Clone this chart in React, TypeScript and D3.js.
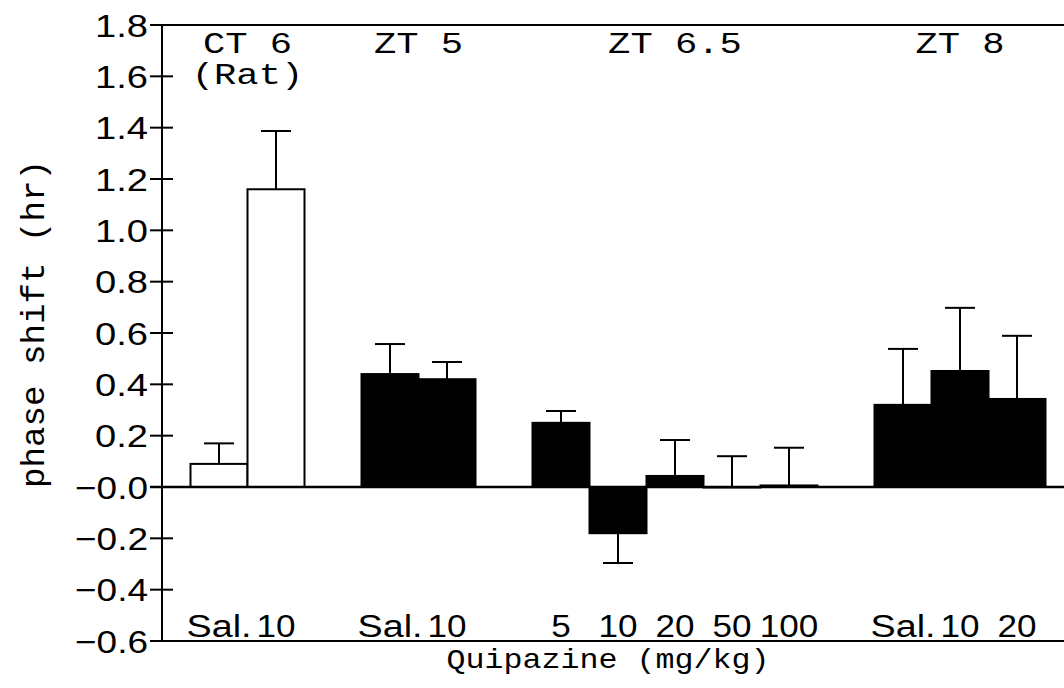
import React from "react";
import * as d3 from "d3";

// ---- data ----
const groupNames: string[][] = [["CT 6", "(Rat)"], ["ZT 5"], ["ZT 6.5"], ["ZT 8"]];
const groupSizes: number[] = [2, 2, 5, 3];
const doseLabels: string[] = ["Sal.", "10", "Sal.", "10", "5", "10", "20", "50", "100", "Sal.", "10", "20"];
const means: number[] = [0.09, 1.16, 0.44, 0.42, 0.25, -0.18, 0.043, 0.0, 0.006, 0.32, 0.452, 0.343];
const sems: number[] = [0.08, 0.227, 0.117, 0.067, 0.046, 0.116, 0.14, 0.12, 0.147, 0.218, 0.246, 0.246];
const ratGroup: boolean[] = [true, true, false, false, false, false, false, false, false, false, false, false];
const yTicks: number[] = [1.8, 1.6, 1.4, 1.2, 1.0, 0.8, 0.6, 0.4, 0.2, 0.0, -0.2, -0.4, -0.6];
const yTitle = "phase shift (hr)";
const xTitle = "Quipazine (mg/kg)";

const W = 1064;
const H = 688;
const axisX = 162;
const plotRight = 1064;

// approximate advance widths of the wide sans face used in the reference
const charW = (c: string, digit: number) => {
  if (/[0-9]/.test(c)) return digit;
  if (c === ".") return 10;
  if (c === "\u2212") return 20;
  if (c === "S") return 23;
  if (c === "a") return 20;
  if (c === "l") return 12;
  return 18;
};
const textLen = (str: string, digit: number) =>
  str.split("").reduce((a, c) => a + charW(c, digit), 0);

export default function App() {
  // slot index of each bar: groups separated by one empty slot
  const slots: number[] = [];
  const groupCenters: number[] = [];
  let s = 0;
  groupSizes.forEach((n) => {
    const first = s;
    for (let k = 0; k < n; k++) slots.push(s++);
    groupCenters.push((first + s - 1) / 2);
    s++; // gap
  });
  const nSlots = s - 1;

  // axis sits half a slot before the first bar
  const x = d3.scaleLinear().domain([-1, nSlots - 1]).range([axisX, axisX + 57 * nSlots]);
  const bw = x(1) - x(0);
  const y = d3.scaleLinear().domain([-0.6, 1.8]).range([641, 25]);

  const tickFmt = (v: number) => {
    const t = d3.format(".1f")(Math.abs(v));
    return v <= 0 ? "\u2212" + t : t;
  };

  const mono = "'Liberation Mono', 'DejaVu Sans Mono', monospace";
  const sans = "'Liberation Sans', Arial, sans-serif";

  return (
    <svg width={W} height={H} style={{ position: "absolute", left: 0, top: 0, background: "#fff" }}>
      <rect x={0} y={0} width={W} height={H} fill="#fff" />
      {/* bars */}
      {means.map((m, i) => {
        const cx = x(slots[i]);
        const y0 = y(0);
        const y1 = y(m);
        return (
          <rect
            key={"b" + i}
            x={cx - bw / 2}
            y={Math.min(y0, y1)}
            width={bw}
            height={Math.max(Math.abs(y1 - y0), 0.5)}
            fill={ratGroup[i] ? "#fff" : "#000"}
            stroke="#000"
            strokeWidth={2}
          />
        );
      })}
      {/* error bars */}
      {means.map((m, i) => {
        const cx = x(slots[i]);
        const end = m < 0 ? m - sems[i] : m + sems[i];
        return (
          <g key={"e" + i} stroke="#000" strokeWidth={2}>
            <line x1={cx} x2={cx} y1={y(m)} y2={y(end)} />
            <line x1={cx - 15} x2={cx + 15} y1={y(end)} y2={y(end)} />
          </g>
        );
      })}
      {/* zero line, top and bottom lines */}
      <line x1={150} x2={plotRight} y1={y(0)} y2={y(0)} stroke="#000" strokeWidth={2.5} />
      <line x1={150} x2={plotRight} y1={y(1.8)} y2={y(1.8)} stroke="#000" strokeWidth={2} />
      <line x1={150} x2={plotRight} y1={y(-0.6)} y2={y(-0.6)} stroke="#000" strokeWidth={2} />
      {/* y axis */}
      <line x1={axisX} x2={axisX} y1={y(1.8)} y2={y(-0.6)} stroke="#000" strokeWidth={2} />
      {yTicks.map((t) => {
        const lbl = tickFmt(t);
        return (
          <g key={"t" + t}>
            <line x1={150} x2={173} y1={y(t)} y2={y(t)} stroke="#000" strokeWidth={2} />
            <text
              x={148}
              y={y(t)}
              dy="0.36em"
              textAnchor="end"
              fontFamily={sans}
              fontSize={32}
              textLength={textLen(lbl, 21.5)}
              lengthAdjust="spacingAndGlyphs"
              fill="#000"
            >
              {lbl}
            </text>
          </g>
        );
      })}
      {/* group headers */}
      {groupNames.map((lines, gi) =>
        lines.map((ln, li) => (
          <text
            key={"g" + gi + "_" + li}
            x={x(groupCenters[gi])}
            y={53 + li * 31}
            textAnchor="middle"
            fontFamily={mono}
            fontSize={30}
            textLength={ln.length * 22.3}
            lengthAdjust="spacingAndGlyphs"
            fill="#000"
          >
            {ln}
          </text>
        ))
      )}
      {/* dose labels */}
      {doseLabels.map((d, i) => (
        <text
          key={"d" + i}
          x={x(slots[i])}
          y={637}
          textAnchor="middle"
          fontFamily={sans}
          fontSize={31}
          textLength={textLen(d, 19.5)}
          lengthAdjust="spacingAndGlyphs"
          fill="#000"
        >
          {d}
        </text>
      ))}
      {/* axis titles */}
      <text
        x={608}
        y={668}
        textAnchor="middle"
        fontFamily={mono}
        fontSize={28}
        textLength={323}
        lengthAdjust="spacingAndGlyphs"
        fill="#000"
      >
        {xTitle}
      </text>
      <text
        transform={`translate(44,324) rotate(-90)`}
        textAnchor="middle"
        fontFamily={mono}
        fontSize={34}
        textLength={328}
        lengthAdjust="spacingAndGlyphs"
        fill="#000"
      >
        {yTitle}
      </text>
    </svg>
  );
}
